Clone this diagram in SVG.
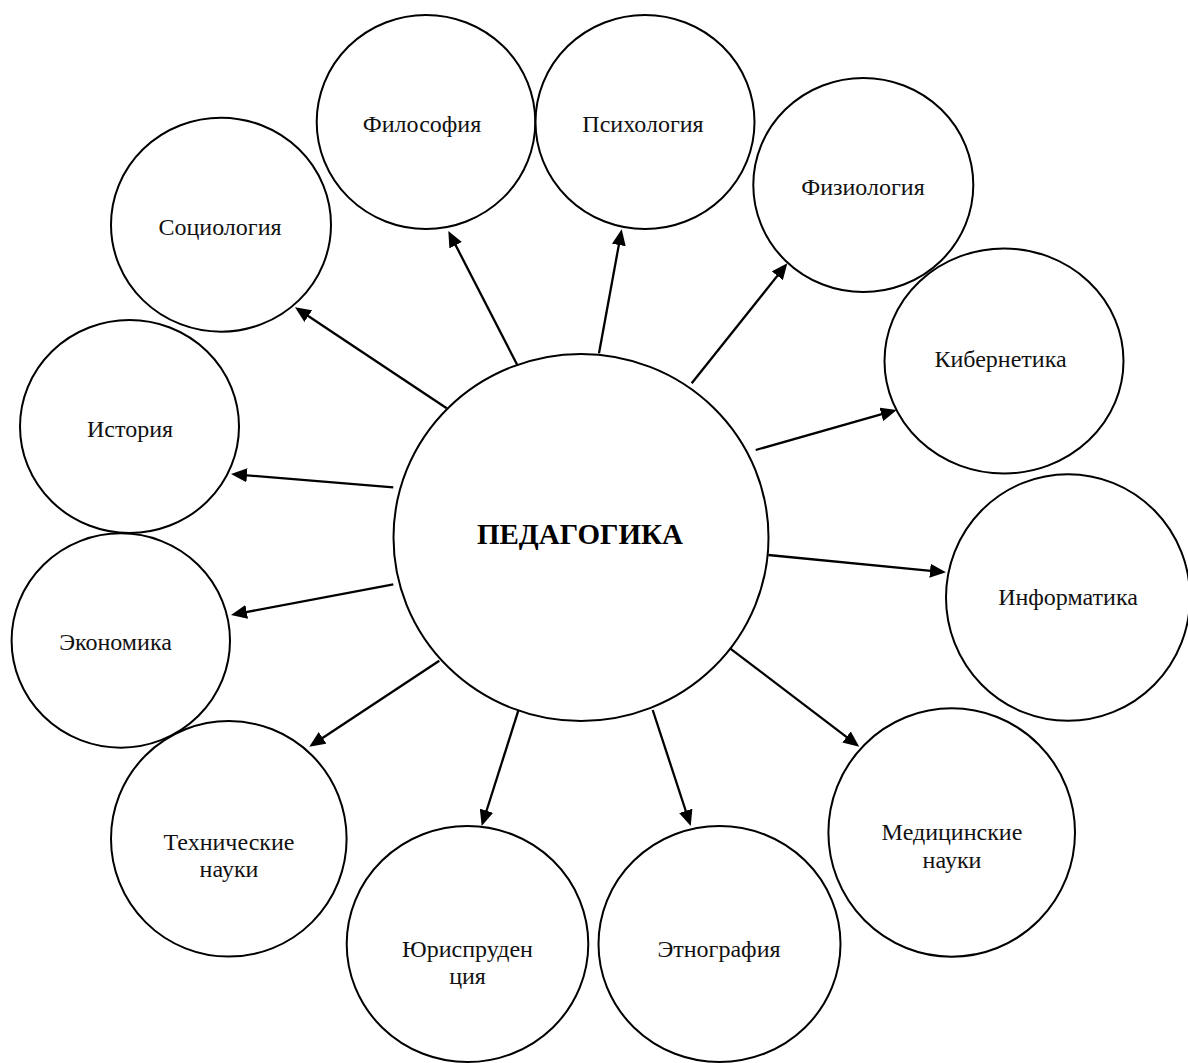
<svg xmlns="http://www.w3.org/2000/svg" width="1188" height="1063" viewBox="0 0 1188 1063">
<style>
.c{fill:#fff;stroke:#000;stroke-width:2}
.t{font-family:"Liberation Serif","Times New Roman",serif;font-size:24px;fill:#111;text-anchor:middle}
.b{font-family:"Liberation Serif","Times New Roman",serif;font-size:29px;font-weight:bold;fill:#000;text-anchor:middle}
.a{stroke:#000;stroke-width:2.3;fill:none;marker-end:url(#ah)}
</style>
<defs>
<marker id="ah" viewBox="0 0 16 14" refX="6" refY="7" markerWidth="16" markerHeight="14" markerUnits="userSpaceOnUse" orient="auto">
<path d="M0,0 L16,7 L0,14 z" fill="#000"/>
</marker>
</defs>
<rect width="1188" height="1063" fill="#fff"/>
<g id="n-center"><ellipse class="c" cx="581" cy="537.5" rx="187.5" ry="183.5"/><text class="b" x="580" y="544">ПЕДАГОГИКА</text></g>
<g id="n-philosophy"><ellipse class="c" cx="426" cy="122" rx="109.3" ry="107"/><text class="t" x="422" y="132">Философия</text></g>
<g id="n-psychology"><ellipse class="c" cx="645" cy="122" rx="109.5" ry="107"/><text class="t" x="643" y="132">Психология</text></g>
<g id="n-physiology"><ellipse class="c" cx="863.3" cy="185" rx="110" ry="107"/><text class="t" x="863" y="195">Физиология</text></g>
<g id="n-cybernetics"><ellipse class="c" cx="1004" cy="361" rx="119.5" ry="112.5"/><text class="t" x="1000.5" y="367">Кибернетика</text></g>
<g id="n-informatics"><ellipse class="c" cx="1068" cy="597.5" rx="122" ry="123.3"/><text class="t" x="1068" y="605">Информатика</text></g>
<g id="n-medical"><ellipse class="c" cx="951.7" cy="832.5" rx="123.3" ry="124.2"/><text class="t" x="952" y="840">Медицинские</text><text class="t" x="952" y="868">науки</text></g>
<g id="n-ethnography"><ellipse class="c" cx="719.5" cy="944" rx="121" ry="118"/><text class="t" x="719" y="957">Этнография</text></g>
<g id="n-law"><ellipse class="c" cx="467.5" cy="944" rx="120.8" ry="118"/><text class="t" x="467.5" y="957">Юриспруден</text><text class="t" x="467.5" y="984">ция</text></g>
<g id="n-technical"><ellipse class="c" cx="228.8" cy="838.8" rx="117.8" ry="117.8"/><text class="t" x="229" y="850">Технические</text><text class="t" x="229" y="877">науки</text></g>
<g id="n-economics"><ellipse class="c" cx="120.8" cy="640.5" rx="109.2" ry="107.2"/><text class="t" x="115.5" y="650">Экономика</text></g>
<g id="n-history"><ellipse class="c" cx="129.5" cy="426.5" rx="109.5" ry="106.5"/><text class="t" x="130" y="437">История</text></g>
<g id="n-sociology"><ellipse class="c" cx="221" cy="224.7" rx="110" ry="107"/><text class="t" x="220" y="235">Социология</text></g>
<g id="connectors">
<line class="a" x1="517.3" y1="365" x2="452.9" y2="239.9"/>
<line class="a" x1="599" y1="353.3" x2="619.9" y2="239.1"/>
<line class="a" x1="691.7" y1="383.3" x2="781.1" y2="271.1"/>
<line class="a" x1="755.7" y1="450" x2="887.1" y2="412.7"/>
<line class="a" x1="768.3" y1="555" x2="936" y2="571.3"/>
<line class="a" x1="730" y1="648.3" x2="851.3" y2="740.6"/>
<line class="a" x1="652.7" y1="710" x2="687.6" y2="816.5"/>
<line class="a" x1="518.3" y1="710.7" x2="484.7" y2="816.5"/>
<line class="a" x1="439.3" y1="660.7" x2="317.6" y2="741.2"/>
<line class="a" x1="393.3" y1="584.3" x2="240.8" y2="613.1"/>
<line class="a" x1="393.3" y1="487.3" x2="241" y2="474.8"/>
<line class="a" x1="446.7" y1="408.3" x2="303.3" y2="312.8"/>
</g>
</svg>
